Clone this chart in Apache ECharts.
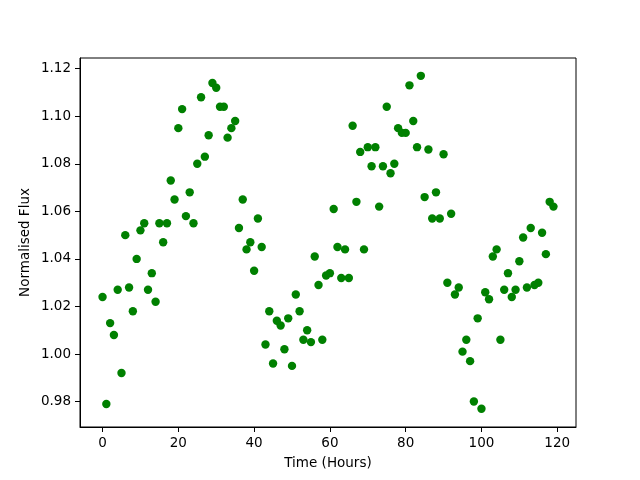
<!DOCTYPE html>
<html>
<head>
<meta charset="utf-8">
<script src="https://cdn.jsdelivr.net/npm/echarts@6/dist/echarts.min.js"></script>
<style>
  html, body { margin: 0; padding: 0; background: #fff; }
  #chart { width: 640px; height: 480px; }
</style>
</head>
<body>
<div id="chart"></div>
<script>
// time of each sample (hours)
var hours = [
  0, 1, 2, 3, 4, 5, 6, 7, 8, 9, 10, 11, 12, 13, 14, 15, 16, 17, 18, 19,
  20, 21, 22, 23, 24, 25, 26, 27, 28, 29, 30, 31, 32, 33, 34, 35, 36, 37, 38, 39,
  40, 41, 42, 43, 44, 45, 46, 47, 48, 49, 50, 51, 52, 53, 54, 55, 56, 57, 58, 59,
  60, 61, 62, 63, 64, 65, 66, 67, 68, 69, 70, 71, 72, 73, 74, 75, 76, 77, 78, 79,
  80, 81, 82, 83, 84, 85, 86, 87, 88, 89, 90, 91, 92, 93, 94, 95, 96, 97, 98, 99,
  100, 101, 102, 103, 104, 105, 106, 107, 108, 109, 110, 111, 112, 113, 114, 115, 116, 117, 118, 119
];
// normalised flux
var flux = [
  1.024, 0.979, 1.013, 1.008, 1.027, 0.992, 1.050, 1.028, 1.018, 1.040,
  1.052, 1.055, 1.027, 1.034, 1.022, 1.055, 1.047, 1.055, 1.073, 1.065,
  1.095, 1.103, 1.058, 1.068, 1.055, 1.080, 1.108, 1.083, 1.092, 1.114,
  1.112, 1.104, 1.104, 1.091, 1.095, 1.098, 1.053, 1.065, 1.044, 1.047,
  1.035, 1.057, 1.045, 1.004, 1.018, 0.996, 1.014, 1.012, 1.002, 1.015,
  0.995, 1.025, 1.018, 1.006, 1.010, 1.005, 1.041, 1.029, 1.006, 1.033,
  1.034, 1.061, 1.045, 1.032, 1.044, 1.032, 1.096, 1.064, 1.085, 1.044,
  1.087, 1.079, 1.087, 1.062, 1.079, 1.104, 1.076, 1.080, 1.095, 1.093,
  1.093, 1.113, 1.098, 1.087, 1.117, 1.066, 1.086, 1.057, 1.068, 1.057,
  1.084, 1.030, 1.059, 1.025, 1.028, 1.001, 1.006, 0.997, 0.980, 1.015,
  0.977, 1.026, 1.023, 1.041, 1.044, 1.006, 1.027, 1.034, 1.024, 1.027,
  1.039, 1.049, 1.028, 1.053, 1.029, 1.030, 1.051, 1.042, 1.064, 1.062
];
var xTicks = [0, 20, 40, 60, 80, 100, 120];
var yTicks = [0.98, 1.00, 1.02, 1.04, 1.06, 1.08, 1.10, 1.12];

var points = [];
for (var i = 0; i < hours.length; i++) {
  points.push([hours[i], flux[i]]);
}

var font = 'DejaVu Sans';
var chart = echarts.init(document.getElementById('chart'), null, {renderer: 'canvas'});
chart.setOption({
  animation: false,
  backgroundColor: '#fff',
  grid: {
    left: 80, top: 58, width: 496, height: 369,
    show: true, borderColor: '#000', borderWidth: 1, backgroundColor: 'transparent'
  },
  xAxis: {
    type: 'value',
    min: -5.95, max: 124.95,
    name: 'Time (Hours)',
    nameLocation: 'middle',
    nameGap: 29,
    nameMoveOverlap: false,
    nameTextStyle: {color: '#000', fontFamily: font, fontSize: 13.5},
    splitLine: {show: false},
    axisLine: {show: true, onZero: false, lineStyle: {color: '#000', width: 1}},
    axisTick: {show: true, length: 5, customValues: xTicks, lineStyle: {color: '#000'}},
    axisLabel: {
      customValues: xTicks, margin: 9,
      color: '#000', fontFamily: font, fontSize: 13.5
    }
  },
  yAxis: {
    type: 'value',
    min: 0.9693, max: 1.1245,
    name: 'Normalised Flux',
    nameLocation: 'middle',
    nameGap: 48,
    nameMoveOverlap: false,
    nameTextStyle: {color: '#000', fontFamily: font, fontSize: 13.5},
    splitLine: {show: false},
    axisLine: {show: true, onZero: false, lineStyle: {color: '#000', width: 1}},
    axisTick: {show: true, length: 5, customValues: yTicks, lineStyle: {color: '#000'}},
    axisLabel: {
      customValues: yTicks, margin: 9,
      color: '#000', fontFamily: font, fontSize: 13.5,
      formatter: function (v) { return v.toFixed(2); }
    }
  },
  series: [{
    type: 'scatter',
    data: points,
    symbol: 'circle',
    symbolSize: 8.4,
    itemStyle: {color: '#008000', opacity: 1},
    emphasis: {disabled: true}
  }]
});
</script>
</body>
</html>
